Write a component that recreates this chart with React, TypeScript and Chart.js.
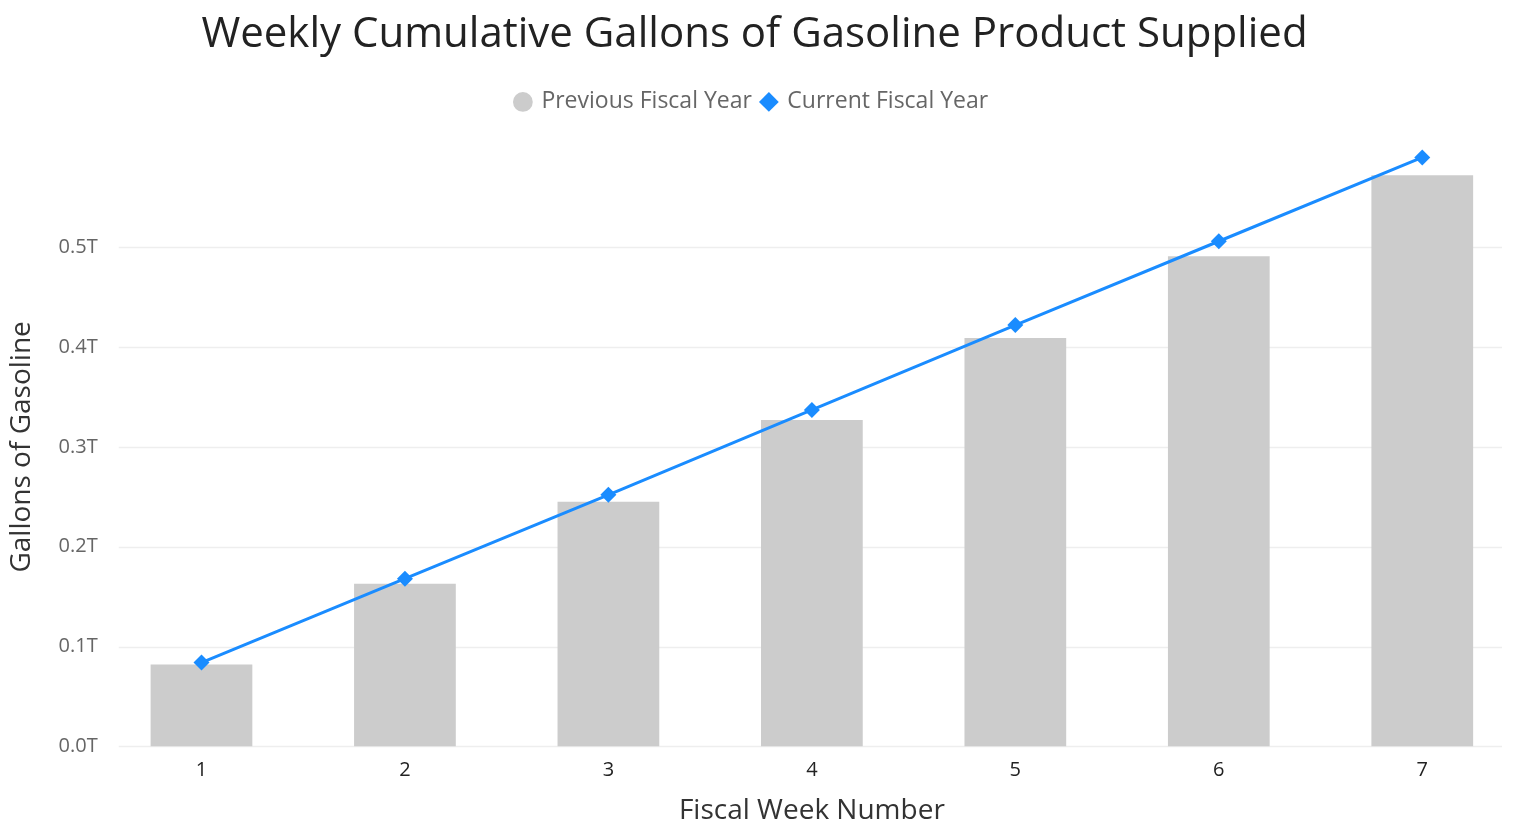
import React, { useEffect, useRef } from "react";
import { Chart, registerables } from "chart.js";

Chart.register(...registerables);

const weeks: string[] = ["1", "2", "3", "4", "5", "6", "7"];
const previousFiscalYear: number[] = [0.082e12, 0.163e12, 0.245e12, 0.327e12, 0.409e12, 0.491e12, 0.572e12];
const currentFiscalYear: number[] = [0.084e12, 0.168e12, 0.252e12, 0.337e12, 0.422e12, 0.506e12, 0.59e12];
const yTickValues: number[] = [0, 0.1e12, 0.2e12, 0.3e12, 0.4e12, 0.5e12];

const FONT = "'Open Sans', 'Noto Sans', sans-serif";

const gridPlugin = {
  id: "insetGrid",
  beforeDatasetsDraw(chart: any) {
    const { ctx, chartArea, scales } = chart;
    const y = scales.y;
    ctx.save();
    ctx.strokeStyle = "#eeeeee";
    ctx.lineWidth = 1.5;
    for (const v of yTickValues) {
      const py = Math.round(y.getPixelForValue(v)) + 0.5;
      ctx.beginPath();
      ctx.moveTo(chartArea.left + 19, py);
      ctx.lineTo(chartArea.right - 22, py);
      ctx.stroke();
    }
    ctx.restore();
  },
};

const legendSpacing = {
  id: "legendSpacing",
  beforeInit(chart: any) {
    const legend = chart.legend;
    if (!legend) return;
    const origFit = legend.fit;
    legend.fit = function () {
      origFit.call(this);
      this.height += 24;
    };
  },
};

const headerShift = {
  id: "headerShift",
  afterLayout(chart: any) {
    const t = chart.titleBlock;
    if (t) {
      t.left -= 10;
      t.right -= 10;
    }
    const l = chart.legend;
    if (l) {
      l.left -= 12.5;
      l.right -= 12.5;
    }
  },
};

export default function App() {
  const ref = useRef<HTMLCanvasElement | null>(null);
  useEffect(() => {
    if (!ref.current) return;
    const chart = new Chart(ref.current, {
      type: "bar",
      data: {
        labels: weeks,
        datasets: [
          {
            type: "line",
            label: "Current Fiscal Year",
            data: currentFiscalYear,
            borderColor: "#1a8cff",
            backgroundColor: "#1a8cff",
            borderWidth: 3,
            pointStyle: "rectRot",
            pointRadius: 8,
            pointHoverRadius: 8,
            pointBackgroundColor: "#1a8cff",
            pointBorderWidth: 0,
            tension: 0,
            order: 0,
          } as any,
          {
            type: "bar",
            label: "Previous Fiscal Year",
            data: previousFiscalYear,
            backgroundColor: "#cccccc",
            borderWidth: 0,
            categoryPercentage: 1,
            barPercentage: 0.5,
            pointStyle: "circle",
            order: 1,
          } as any,
        ],
      },
      options: {
        animation: false,
        responsive: true,
        maintainAspectRatio: false,
        layout: { padding: { left: 25, right: 16, top: 0, bottom: 4 } },
        plugins: {
          title: {
            display: true,
            text: "Weekly Cumulative Gallons of Gasoline Product Supplied",
            color: "#222222",
            font: { family: FONT, size: 42, weight: "normal" },
            padding: { top: 10, bottom: 20 },
          },
          legend: {
            display: true,
            reverse: true,
            labels: {
              usePointStyle: true,
              boxWidth: 14,
              boxHeight: 14,
              padding: 10,
              color: "#666666",
              font: { family: FONT, size: 23 },
            },
          },
          tooltip: { enabled: false },
        },
        scales: {
          x: {
            grid: { display: false, drawTicks: false },
            border: { display: false },
            ticks: { color: "#222222", font: { family: FONT, size: 20 }, padding: 12 },
            title: {
              display: true,
              text: "Fiscal Week Number",
              color: "#333333",
              font: { family: FONT, size: 28 },
              padding: { top: 0, bottom: 0 },
            },
          },
          y: {
            min: 0,
            max: 0.6e12,
            grid: { display: false, drawTicks: false },
            border: { display: false },
            afterBuildTicks: (axis: any) => {
              axis.ticks = yTickValues.map((v) => ({ value: v }));
            },
            ticks: {
              color: "#666666",
              font: { family: FONT, size: 20 },
              padding: 2,
              callback: (v: any) => (Number(v) / 1e12).toFixed(1) + "T",
            },
            title: {
              display: true,
              text: "Gallons of Gasoline",
              color: "#333333",
              font: { family: FONT, size: 28 },
              padding: { top: 0, bottom: 18 },
            },
          },
        },
      },
      plugins: [gridPlugin, legendSpacing, headerShift],
    });
    return () => chart.destroy();
  }, []);
  return (
    <div style={{ position: "absolute", left: 0, top: 0, width: 1529, height: 832, overflow: "hidden" }}>
      <div style={{ position: "absolute", left: -20, top: 0, width: 1560, height: 832 }}>
        <canvas ref={ref} />
      </div>
    </div>
  );
}
